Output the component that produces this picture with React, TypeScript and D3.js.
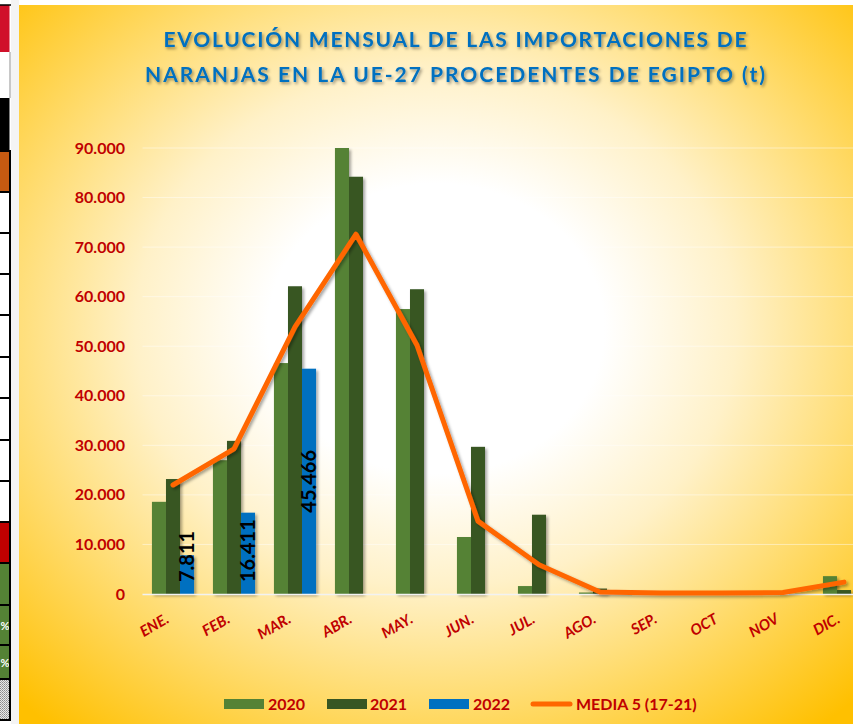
import React, { useEffect, useRef } from 'react';
import * as d3 from 'd3';

const months = ['ENE.', 'FEB.', 'MAR.', 'ABR.', 'MAY.', 'JUN.', 'JUL.', 'AGO.', 'SEP.', 'OCT', 'NOV', 'DIC.'];
const years = ['2020', '2021', '2022'];
const imports2020 = [18600, 27000, 46600, 90000, 57500, 11500, 1600, 300, 0, 0, 0, 3600];
const imports2021 = [23200, 30900, 62100, 84200, 61500, 29700, 16000, 1100, 0, 0, 0, 800];
const imports2022 = [7811, 16411, 45466, null, null, null, null, null, null, null, null, null];
const media5 = [22000, 29300, 53900, 72600, 50200, 14700, 5900, 400, 200, 200, 300, 2400];
const yTicks = [0, 10000, 20000, 30000, 40000, 50000, 60000, 70000, 80000, 90000];
const lineLabel = 'MEDIA 5 (17-21)';
const titleLines = [
  'EVOLUCIÓN  MENSUAL DE LAS IMPORTACIONES  DE',
  'NARANJAS EN LA UE-27  PROCEDENTES  DE EGIPTO (t)'
];

const colors: Record<string, string> = {
  '2020': '#548235',
  '2021': '#375623',
  '2022': '#0070C0',
  line: '#FF6600',
  label: '#C00000',
  title: '#0070C0'
};

// cut-off spreadsheet cells on the far left
const sideCells = [
  { y0: 5, y1: 52, fill: '#D0102A', border: false },
  { y0: 52, y1: 98, fill: '#FFFFFF', border: false },
  { y0: 98, y1: 150, fill: '#000000', border: false },
  { y0: 151, y1: 192, fill: '#C55A11', border: true },
  { y0: 192, y1: 233, fill: '#FFFFFF', border: true },
  { y0: 233, y1: 274, fill: '#FFFFFF', border: true },
  { y0: 274, y1: 315, fill: '#FFFFFF', border: true },
  { y0: 315, y1: 357, fill: '#FFFFFF', border: true },
  { y0: 357, y1: 398, fill: '#FFFFFF', border: true },
  { y0: 398, y1: 440, fill: '#FFFFFF', border: true },
  { y0: 440, y1: 481, fill: '#FFFFFF', border: true },
  { y0: 481, y1: 522, fill: '#FFFFFF', border: true },
  { y0: 522, y1: 563, fill: '#C00000', border: true },
  { y0: 563, y1: 605, fill: '#548235', border: true },
  { y0: 605, y1: 645, fill: '#548235', border: true, pct: true },
  { y0: 645, y1: 679, fill: '#548235', border: true, pct: true },
  { y0: 679, y1: 720, fill: 'url(#dots)', border: true }
];

const FONT = 'Lato, "Open Sans", sans-serif';

export default function App() {
  const svgRef = useRef<SVGSVGElement>(null);

  useEffect(() => {
    if (!svgRef.current) return;
    const svg = d3.select(svgRef.current);
    svg.selectAll('*').remove();

    const width = 853;
    const height = 724;
    const plot = { left: 142.5, right: 874.5, top: 148, bottom: 594 };

    const defs = svg.append('defs');
    const bg = defs.append('radialGradient')
      .attr('id', 'bgGrad')
      .attr('cx', 0.5).attr('cy', 0.45).attr('r', 0.72);
    bg.append('stop').attr('offset', 0).attr('stop-color', '#FFFFFF');
    bg.append('stop').attr('offset', 0.28).attr('stop-color', '#FFFFFF');
    bg.append('stop').attr('offset', 0.5).attr('stop-color', '#FFF1C8');
    bg.append('stop').attr('offset', 0.72).attr('stop-color', '#FFDC70');
    bg.append('stop').attr('offset', 1).attr('stop-color', '#FFC000');

    const dots = defs.append('pattern')
      .attr('id', 'dots').attr('patternUnits', 'userSpaceOnUse')
      .attr('width', 2).attr('height', 2);
    dots.append('rect').attr('width', 2).attr('height', 2).attr('fill', '#E8E8E8');
    dots.append('rect').attr('width', 1).attr('height', 1).attr('fill', '#8C8C8C');
    dots.append('rect').attr('x', 1).attr('y', 1).attr('width', 1).attr('height', 1).attr('fill', '#A6A6A6');

    const shadow = defs.append('filter').attr('id', 'shadow')
      .attr('x', '-20%').attr('y', '-20%').attr('width', '140%').attr('height', '140%');
    shadow.append('feDropShadow')
      .attr('dx', 2).attr('dy', 2).attr('stdDeviation', 1.5)
      .attr('flood-color', '#000').attr('flood-opacity', 0.35);

    const titleShadow = defs.append('filter').attr('id', 'titleShadow')
      .attr('x', '-5%').attr('y', '-30%').attr('width', '110%').attr('height', '160%');
    titleShadow.append('feDropShadow')
      .attr('dx', 1.5).attr('dy', 2).attr('stdDeviation', 1.5)
      .attr('flood-color', '#000').attr('flood-opacity', 0.4);

    // page / side cells
    svg.append('rect').attr('width', width).attr('height', height).attr('fill', '#FFFFFF');
    svg.append('rect').attr('x', 11).attr('y', 0).attr('width', 8).attr('height', height).attr('fill', '#F4F4F4');
    sideCells.forEach(c => {
      svg.append('rect')
        .attr('x', 0).attr('y', c.y0)
        .attr('width', 9.5).attr('height', c.y1 - c.y0)
        .attr('fill', c.fill);
      if (c.border) {
        svg.append('line')
          .attr('x1', 0).attr('x2', 11)
          .attr('y1', c.y0).attr('y2', c.y0)
          .attr('stroke', '#000').attr('stroke-width', 2);
      }
      if ((c as any).pct) {
        svg.append('text')
          .attr('x', 0.5).attr('y', (c.y0 + c.y1) / 2 + 5)
          .attr('font-family', FONT).attr('font-weight', 700).attr('font-size', 11)
          .attr('fill', '#FFFFFF')
          .text('%');
      }
    });
    svg.append('line').attr('x1', 10).attr('x2', 10).attr('y1', 52).attr('y2', 98)
      .attr('stroke', '#C8C8C8').attr('stroke-width', 2);
    svg.append('line').attr('x1', 10).attr('x2', 10).attr('y1', 150).attr('y2', 720)
      .attr('stroke', '#000').attr('stroke-width', 2);
    svg.append('line').attr('x1', 0).attr('x2', 11).attr('y1', 720).attr('y2', 720)
      .attr('stroke', '#000').attr('stroke-width', 2);
    svg.append('line').attr('x1', 0).attr('x2', 11).attr('y1', 5).attr('y2', 5)
      .attr('stroke', '#000').attr('stroke-width', 1.5);

    // chart panel
    svg.append('rect')
      .attr('x', 19).attr('y', 5)
      .attr('width', width - 19).attr('height', height - 5)
      .attr('fill', 'url(#bgGrad)');

    // title
    const titleG = svg.append('g').attr('filter', 'url(#titleShadow)');
    const titleWidths = [583, 620];
    const titleY = [47, 82];
    titleLines.forEach((t, i) => {
      titleG.append('text')
        .attr('x', 455).attr('y', titleY[i])
        .attr('text-anchor', 'middle')
        .attr('font-family', FONT).attr('font-weight', 700).attr('font-size', 21)
        .attr('textLength', titleWidths[i]).attr('lengthAdjust', 'spacing')
        .attr('fill', colors.title)
        .text(t);
    });

    const x0 = d3.scaleBand<string>()
      .domain(months)
      .range([plot.left, plot.right])
      .paddingInner(0.31)
      .paddingOuter(0.155);
    const x1 = d3.scaleBand<string>()
      .domain(years)
      .range([0, x0.bandwidth()]);
    const y = d3.scaleLinear().domain([0, 90000]).range([plot.bottom, plot.top]);
    const cx = (m: string) => (x0(m) as number) + x0.bandwidth() / 2;

    // gridlines
    svg.append('g')
      .selectAll('line')
      .data(yTicks.slice(1))
      .join('line')
      .attr('x1', plot.left).attr('x2', width)
      .attr('y1', d => y(d)).attr('y2', d => y(d))
      .attr('stroke', '#FFFFFF').attr('stroke-opacity', 0.45).attr('stroke-width', 1);

    // y axis labels
    const fmt = (v: number) => v === 0 ? '0' : d3.format(',')(v).replace(/,/g, '.');
    svg.append('g')
      .selectAll('text')
      .data(yTicks)
      .join('text')
      .attr('x', 125).attr('y', d => y(d))
      .attr('dy', '0.35em')
      .attr('text-anchor', 'end')
      .attr('font-family', FONT).attr('font-weight', 700).attr('font-size', 16)
      .attr('fill', colors.label)
      .text(d => fmt(d));

    // bars
    const series: Record<string, (number | null)[]> = {
      '2020': imports2020,
      '2021': imports2021,
      '2022': imports2022
    };
    const barG = svg.append('g').attr('filter', 'url(#shadow)');
    years.forEach(yr => {
      barG.append('g')
        .selectAll('rect')
        .data(months.map((m, i) => ({ m, v: series[yr][i] })).filter(d => d.v != null && (d.v as number) > 0))
        .join('rect')
        .attr('x', d => (x0(d.m) as number) + (x1(yr) as number))
        .attr('width', x1.bandwidth())
        .attr('y', d => y(d.v as number))
        .attr('height', d => plot.bottom - y(d.v as number))
        .attr('fill', colors[yr]);
    });

    // axis line
    svg.append('line')
      .attr('x1', plot.left).attr('x2', width)
      .attr('y1', plot.bottom + 0.5).attr('y2', plot.bottom + 0.5)
      .attr('stroke', '#F2F2F2').attr('stroke-width', 1.5);

    // data labels for 2022
    months.forEach((m, i) => {
      const v = imports2022[i];
      if (v == null) return;
      const bx = (x0(m) as number) + (x1('2022') as number) + x1.bandwidth() / 2;
      const t = svg.append('text')
        .attr('font-family', FONT).attr('font-weight', 700).attr('font-size', 20)
        .attr('fill', '#000')
        .attr('text-anchor', 'middle')
        .text(d3.format(',')(v).replace(/,/g, '.'));
      const len = (t.node() as SVGTextElement).getComputedTextLength();
      const mid = (plot.bottom + y(v)) / 2;
      const cy = Math.min(mid, plot.bottom - 12 - len / 2);
      t.attr('transform', `translate(${bx + 7},${cy}) rotate(-90)`);
    });

    // media line
    const line = d3.line<number>()
      .x((_, i) => cx(months[i]))
      .y(d => y(d));
    svg.append('path')
      .datum(media5)
      .attr('d', line)
      .attr('fill', 'none')
      .attr('stroke', colors.line)
      .attr('stroke-width', 5)
      .attr('stroke-linejoin', 'round')
      .attr('stroke-linecap', 'round')
      .attr('filter', 'url(#shadow)');

    // x labels
    svg.append('g')
      .selectAll('text')
      .data(months)
      .join('text')
      .attr('transform', d => `translate(${cx(d) - 3},${plot.bottom + 28}) rotate(-30)`)
      .attr('text-anchor', 'end')
      .attr('font-family', FONT).attr('font-weight', 700).attr('font-style', 'italic').attr('font-size', 15)
      .attr('fill', colors.label)
      .text(d => d);

    // legend
    const legendY = 704;
    const legendItems = [
      { key: '2020', sx: 224, tx: 268, kind: 'bar' },
      { key: '2021', sx: 327, tx: 370, kind: 'bar' },
      { key: '2022', sx: 429, tx: 473, kind: 'bar' },
      { key: lineLabel, sx: 530, tx: 576, kind: 'line' }
    ];
    const lg = svg.append('g');
    legendItems.forEach(it => {
      if (it.kind === 'bar') {
        lg.append('rect')
          .attr('x', it.sx).attr('y', legendY - 5)
          .attr('width', 40).attr('height', 10)
          .attr('fill', colors[it.key]);
      } else {
        lg.append('line')
          .attr('x1', it.sx + 3).attr('x2', it.sx + 40)
          .attr('y1', legendY).attr('y2', legendY)
          .attr('stroke', colors.line).attr('stroke-width', 5)
          .attr('stroke-linecap', 'round');
      }
      lg.append('text')
        .attr('x', it.tx).attr('y', legendY)
        .attr('dy', '0.36em')
        .attr('font-family', FONT).attr('font-weight', 700).attr('font-size', 16)
        .attr('fill', colors.label)
        .text(it.key);
    });
  }, []);

  return (
    <div style={{ position: 'absolute', left: 0, top: 0 }}>
      <svg ref={svgRef} width={853} height={724} style={{ display: 'block' }} />
    </div>
  );
}
